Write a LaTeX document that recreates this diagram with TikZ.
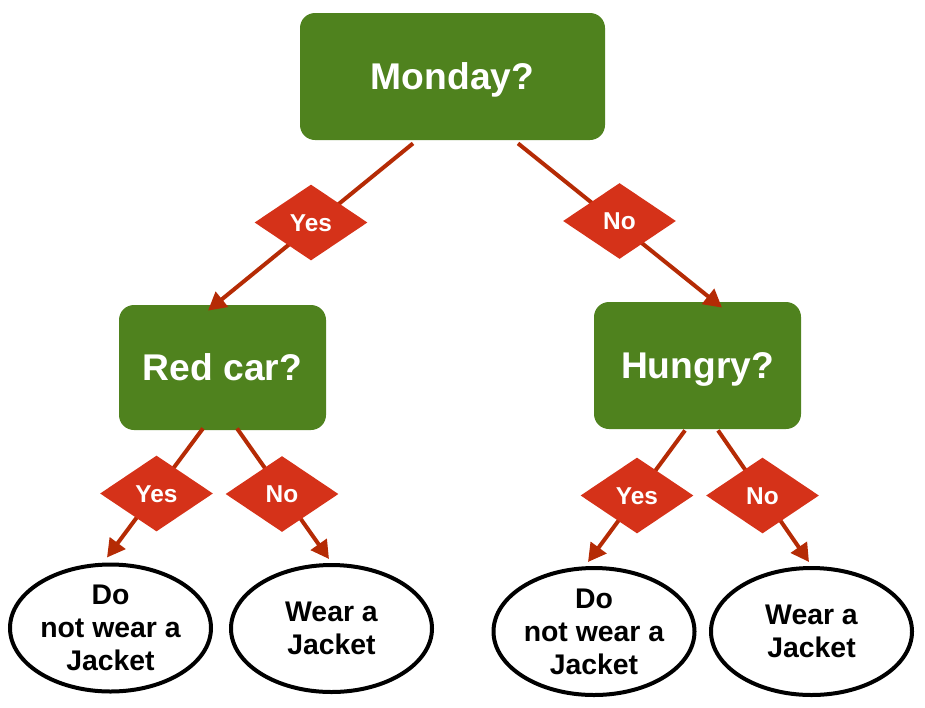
\documentclass[tikz,border=0pt]{standalone}
\usepackage{fontspec}
\setmainfont{Liberation Sans}
\usetikzlibrary{shapes.geometric,arrows.meta,calc}
\definecolor{boxgreen}{HTML}{4F821E}
\definecolor{diamred}{HTML}{D53219}
\definecolor{arrowred}{HTML}{B52B05}
\begin{document}
\begin{tikzpicture}[x=0.5pt,y=-0.5pt,
  qbox/.style={rectangle, rounded corners=7.5pt, fill=boxgreen, text=white,
    font=\fontsize{18.6}{22}\selectfont\bfseries, inner sep=0pt,
    text height=13.3pt, text depth=0pt},
  lbl/.style={diamond, fill=diamred, text=white, inner sep=0pt,
    minimum width=56.5pt, minimum height=38pt,
    text height=8.6pt, text depth=0pt,
    font=\fontsize{12.2}{14}\selectfont\bfseries},
  leaf/.style={ellipse, draw=black, line width=2pt, fill=white, inner sep=0pt,
    minimum width=100.5pt, minimum height=63.5pt, align=center,
    font=\fontsize{14.2}{16.5}\selectfont\bfseries},
  conn/.style={draw=arrowred, line width=2pt,
    -{Triangle[length=9pt,width=9.5pt]}}
]
\useasboundingbox (0,0) rectangle (925,707);

% question boxes
\node[qbox, minimum width=152.5pt, minimum height=63.5pt] (monday) at (452.5,76.5) {Monday?};
\node[qbox, minimum width=103.5pt, minimum height=62.5pt] (redcar) at (222.5,367.5) {Red car?};
\node[qbox, minimum width=103.5pt, minimum height=63.5pt] (hungry) at (697.5,365.5) {Hungry?};

% leaves
\node[leaf] (l1) at (110.5,628) {Do\\not wear a\\Jacket};
\node[leaf] (l2) at (331.5,628.5) {Wear a\\Jacket};
\node[leaf] (l3) at (594,631.5) {Do\\not wear a\\Jacket};
\node[leaf] (l4) at (811.5,631.5) {Wear a\\Jacket};

% connectors
\draw[conn] ([xshift=-19.75pt,yshift=-1.5pt]monday.south) -- ([xshift=-7.25pt,yshift=-3pt]redcar.north);
\draw[conn] ([xshift=32.75pt,yshift=-1.5pt]monday.south) -- ([xshift=12.25pt,yshift=-3pt]hungry.north);
\draw[conn] ([xshift=-9.75pt,yshift=1pt]redcar.south) -- ([xshift=-1.75pt,yshift=2.5pt]l1.north);
\draw[conn] ([xshift=7.25pt,yshift=1pt]redcar.south) -- ([xshift=-1.25pt,yshift=2pt]l2.north);
\draw[conn] ([xshift=-6.25pt,yshift=-0.5pt]hungry.south) -- ([xshift=-3pt,yshift=2pt]l3.north);
\draw[conn] ([xshift=10.25pt,yshift=-0.5pt]hungry.south) -- ([xshift=-1.25pt,yshift=2pt]l4.north);

% labels
\node[lbl] (y1) at (311,222.5) {Yes};
\node[lbl] (n1) at (619.5,221) {No};
\node[lbl] (y2) at (156.5,493.5) {Yes};
\node[lbl] (n2) at (282,494) {No};
\node[lbl] (y3) at (637,495.5) {Yes};
\node[lbl] (n3) at (762.5,495.5) {No};
\end{tikzpicture}
\end{document}
